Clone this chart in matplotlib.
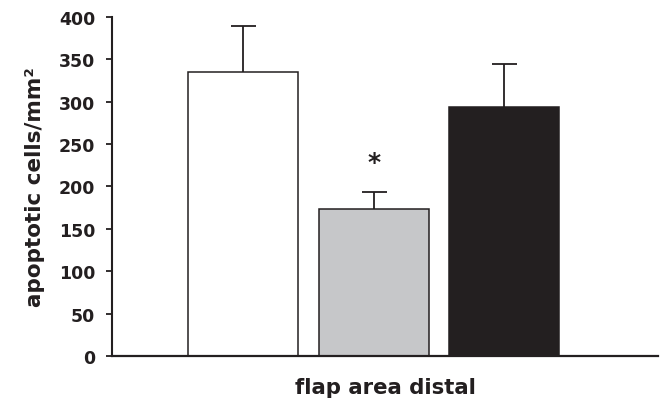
import matplotlib
matplotlib.use("Agg")
import matplotlib.pyplot as plt

groups = ['group 1', 'group 2', 'group 3']
means = [335, 174, 294]
errors = [54, 20, 51]
colors = ['white', '#c6c7c9', '#231f20']
star_value = 229
yticks = [0, 50, 100, 150, 200, 250, 300, 350, 400]

plt.rcParams['font.family'] = ['DejaVu Sans']
plt.rcParams['font.weight'] = 'bold'

fig = plt.figure(figsize=(6.64, 4.06), dpi=100)
ax = fig.add_axes([0.1687, 0.1207, 0.8223, 0.835])
x = list(range(len(groups)))
# error bars behind the bars so only the upper half shows
ax.errorbar(x, means, yerr=errors, fmt='none', ecolor='#231f20', elinewidth=1.3,
            capsize=9, capthick=1.3, zorder=1)
ax.bar(x, means, width=0.843, color=colors, edgecolor='#231f20', linewidth=1.1, zorder=2)
ax.text(1, star_value, '*', ha='center', va='center', fontsize=18, color='#231f20')

ax.set_xlim(-1.008, 3.18)
ax.set_ylim(0, 400)
ax.set_yticks(yticks)
ax.set_xticks([])
ax.spines['top'].set_visible(False)
ax.spines['right'].set_visible(False)
ax.spines['left'].set_linewidth(1.5)
ax.spines['bottom'].set_linewidth(1.6)
ax.spines['left'].set_color('#231f20')
ax.spines['bottom'].set_color('#231f20')
ax.spines['bottom'].set_zorder(3)
ax.tick_params(axis='y', direction='out', length=4.5, width=1.3, colors='#231f20',
               labelsize=12.5, pad=7.5)
for lab in ax.get_yticklabels():
    lab.set_fontweight('bold')
ax.set_ylabel('apoptotic cells/mm²', fontsize=15.5, fontweight='bold', color='#231f20', labelpad=10)
ax.set_xlabel('flap area distal', fontsize=15.3, fontweight='bold', color='#231f20', labelpad=15)

fig.savefig('out.png', dpi=100)
